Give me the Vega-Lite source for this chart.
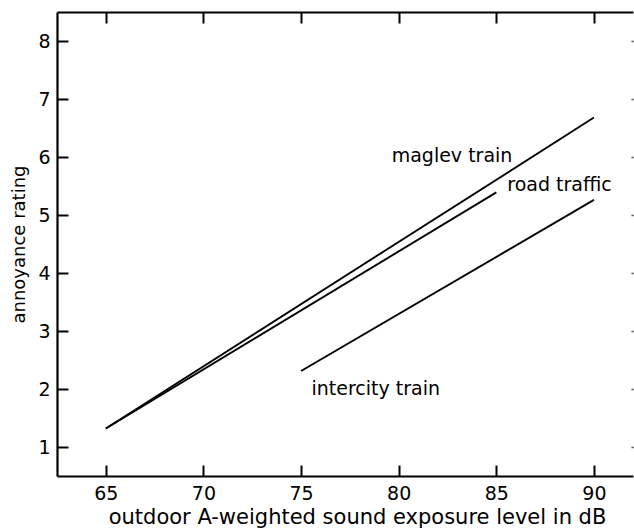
{
  "$schema": "https://vega.github.io/schema/vega-lite/v6.json",
  "width": 576,
  "height": 464,
  "autosize": {"type": "none"},
  "padding": {"left": 57, "top": 12, "right": 1, "bottom": 55},
  "background": "white",
  "config": {
    "view": {"stroke": null},
    "font": "DejaVu Sans",
    "axis": {
      "domainColor": "black",
      "tickColor": "black",
      "labelColor": "black",
      "titleColor": "black",
      "labelFont": "DejaVu Sans",
      "titleFont": "DejaVu Sans",
      "labelFontSize": 19,
      "titleFontWeight": "normal",
      "grid": false
    }
  },
  "datasets": {
    "curves": [
      {"source": "maglev train", "level": 65, "rating": 1.32},
      {"source": "maglev train", "level": 90, "rating": 6.68},
      {"source": "road traffic", "level": 65, "rating": 1.32},
      {"source": "road traffic", "level": 85, "rating": 5.39},
      {"source": "intercity train", "level": 75, "rating": 2.31},
      {"source": "intercity train", "level": 90, "rating": 5.26}
    ],
    "labels": [
      {"source": "maglev train", "level": 79.64, "rating": 6.02},
      {"source": "road traffic", "level": 85.56, "rating": 5.52},
      {"source": "intercity train", "level": 75.53, "rating": 2.0}
    ]
  },
  "layer": [
    {
      "data": {"name": "curves"},
      "mark": {"type": "line", "color": "black", "strokeWidth": 1.9},
      "encoding": {
        "x": {
          "field": "level",
          "type": "quantitative",
          "scale": {"domain": [62.5, 92], "nice": false, "zero": false},
          "axis": {
            "orient": "bottom",
            "title": "outdoor A-weighted sound exposure level in dB",
            "titleFontSize": 21,
            "titlePadding": 3,
            "titleX": 300,
            "titleAnchor": "middle",
            "values": [65, 70, 75, 80, 85, 90],
            "domainWidth": 2.2,
            "tickColor": "black",
            "tickWidth": 2,
            "tickSize": -11,
            "labelPadding": 19
          }
        },
        "y": {
          "field": "rating",
          "type": "quantitative",
          "scale": {"domain": [0.5, 8.5], "nice": false, "zero": false},
          "axis": {
            "orient": "left",
            "title": "annoyance rating",
            "titleFontSize": 18,
            "titlePadding": 9,
            "values": [1, 2, 3, 4, 5, 6, 7, 8],
            "domainWidth": 2.2,
            "tickColor": "black",
            "tickWidth": 2,
            "tickSize": -11,
            "labelPadding": 18
          }
        },
        "detail": {"field": "source"}
      }
    },
    {
      "data": {"name": "labels"},
      "mark": {"type": "text", "align": "left", "baseline": "middle", "fontSize": 19, "font": "DejaVu Sans", "color": "black"},
      "encoding": {
        "x": {
          "field": "level",
          "type": "quantitative",
          "axis": {
            "orient": "top",
            "title": null,
            "labels": false,
            "values": [65, 70, 75, 80, 85, 90],
            "domainWidth": 2.2,
            "tickColor": "black",
            "tickWidth": 2,
            "tickSize": -11
          }
        },
        "y": {
          "field": "rating",
          "type": "quantitative",
          "axis": {
            "orient": "right",
            "title": null,
            "labels": false,
            "domain": false,
            "values": [1, 2, 3, 4, 5, 6, 7, 8],
            "tickColor": "#444",
            "tickWidth": 1.5,
            "tickSize": -2
          }
        },
        "text": {"field": "source"}
      }
    }
  ]
}
